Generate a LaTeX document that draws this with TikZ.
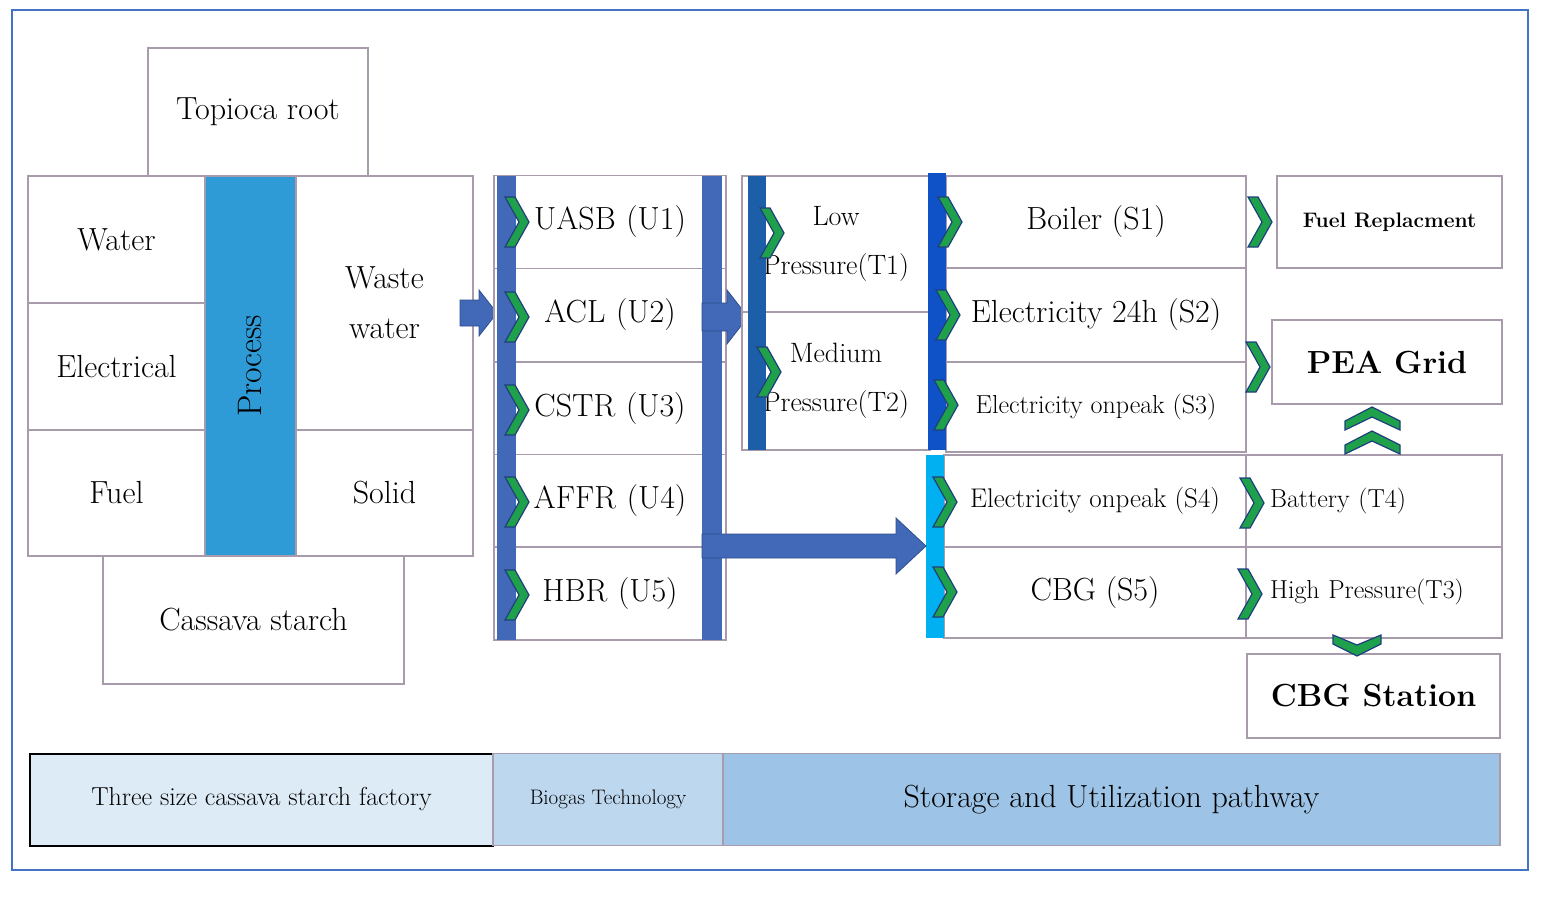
\documentclass[tikz,border=0pt]{standalone}
\begin{document}
\begin{tikzpicture}[x=1pt,y=-1pt,
 box/.style={draw=boxc,line width=1.6pt,fill=white,inner sep=0pt,align=center,font=\fontsize{32}{50}\selectfont},
 barr/.style={fill=blueA,draw=blueD,line width=0.8pt},
 chev/.style={fill=chevG,draw=chevB,line width=1.2pt}]
\definecolor{boxc}{HTML}{A89CAC}
\definecolor{frame}{HTML}{4472C4}
\definecolor{blueA}{HTML}{4169B8}
\definecolor{blueD}{HTML}{2F4F8F}
\definecolor{chevG}{HTML}{1FA04A}
\definecolor{chevB}{HTML}{1F3F7F}
\definecolor{procB}{HTML}{2E9BD6}
\definecolor{tBar}{HTML}{1C5FA8}
\definecolor{sBar}{HTML}{0F52C8}
\definecolor{cyanB}{HTML}{00B0F0}
\definecolor{legA}{HTML}{DDEBF7}
\definecolor{legB}{HTML}{BDD7EE}
\definecolor{legC}{HTML}{9DC3E6}
\useasboundingbox (0,0) rectangle (1550,900);
\draw[frame,line width=1.5pt] (12,10) rectangle (1528,870);
% left block
\node[box,minimum width=220,minimum height=128] (topioca) at (258,112) {Topioca root};
\node[box,minimum width=177,minimum height=127] (water) at (116.5,239.5) {Water};
\node[box,minimum width=177,minimum height=127] (elec) at (116.5,366.5) {Electrical};
\node[box,minimum width=177,minimum height=126] (fuel) at (116.5,493) {Fuel};
\node[box,minimum width=177,minimum height=254] (waste) at (384.5,303) {Waste\\water};
\node[box,minimum width=177,minimum height=126] (solid) at (384.5,493) {Solid};
\node[box,minimum width=301,minimum height=128] (starch) at (253.5,620) {Cassava starch};
\node[draw=boxc,line width=1.6pt,fill=procB,minimum width=91,minimum height=380,inner sep=0pt] (process) at (250.5,366) {};
\node[rotate=90,font=\fontsize{34}{40}\selectfont] (ptext) at (process.center) {Process};
% arrow 1
\draw[barr] (460,300) -- (479,300) -- (479,290) -- (497,313) -- (479,336) -- (479,326) -- (460,326) -- cycle;
% biogas column
\foreach \n/\t/\y in {u1/UASB (U1)/222, u2/ACL (U2)/315, u3/CSTR (U3)/408.5, u4/AFFR (U4)/501, u5/HBR (U5)/593.5}
  \node[box,minimum width=232,minimum height=93,text width=190] (\n) at (610,\y) {\t};
\fill[blueA] (497,176) rectangle (516,640);
\fill[blueA] (702,176) rectangle (722,640);
% arrow 2
\draw[barr] (702,303) -- (727,303) -- (727,290) -- (748,317) -- (727,344) -- (727,331) -- (702,331) -- cycle;
% T boxes
\node[box,minimum width=188,minimum height=136,font=\fontsize{28}{49}\selectfont] (t1) at (836,244) {Low\\Pressure(T1)};
\node[box,minimum width=188,minimum height=138,font=\fontsize{28}{49}\selectfont] (t2) at (836,381) {Medium\\Pressure(T2)};
\fill[tBar] (748,176) rectangle (766,450);
% S boxes
\node[box,minimum width=300,minimum height=92] (s1) at (1096,222) {Boiler (S1)};
\node[box,minimum width=300,minimum height=94] (s2) at (1096,315) {Electricity 24h (S2)};
\node[box,minimum width=300,minimum height=90,font=\fontsize{26}{30}\selectfont] (s3) at (1096,407) {Electricity onpeak (S3)};
\fill[sBar] (928,173) rectangle (946,450);
\node[box,minimum width=225,minimum height=92,font=\bfseries\fontsize{21}{24}\selectfont] (fr) at (1389.5,222) {Fuel Replacment};
\node[box,minimum width=230,minimum height=84,font=\bfseries\fontsize{32}{36}\selectfont] (pea) at (1387,362) {PEA Grid};
% lower rows
\node[box,minimum width=302,minimum height=92,font=\fontsize{27}{30}\selectfont] (s4) at (1095,501) {Electricity\ onpeak (S4)};
\node[box,minimum width=302,minimum height=91] (s5) at (1095,592.5) {CBG (S5)};
\node[box,minimum width=256,minimum height=92,text width=202,align=left,font=\fontsize{26}{30}\selectfont] (t4) at (1374,501) {\hspace*{-3pt}Battery (T4)};
\node[box,minimum width=256,minimum height=91,text width=202,align=left,font=\fontsize{26}{30}\selectfont] (t3) at (1374,592.5) {\hspace*{-3pt}High Pressure(T3)};
\fill[cyanB] (926,455) rectangle (944,638);
\node[box,minimum width=253,minimum height=84,font=\bfseries\fontsize{32}{36}\selectfont] (cbg) at (1373.5,696) {CBG Station};
% arrow 3
\draw[barr] (702,534) -- (896,534) -- (896,518) -- (926,546) -- (896,574) -- (896,558) -- (702,558) -- cycle;
% chevrons right
\foreach \x/\y in {505/222,505/317,505/410,505/502,505/595,760/233,757/372,938/222,936/315,934/405,1248/222,1246/367,933/502,933/592,1240/503,1238/594}
  \draw[chev] (\x,\y-25) -- (\x+10,\y-25) -- (\x+24,\y) -- (\x+10,\y+25) -- (\x,\y+25) -- (\x+14,\y) -- cycle;
% up chevrons
\foreach \y in {407,431}
  \draw[chev] (1345,\y+14) -- (1372,\y) -- (1400,\y+14) -- (1400,\y+23) -- (1372,\y+10) -- (1345,\y+23) -- cycle;
% down chevron
\draw[chev] (1333,635) -- (1357,645) -- (1381,635) -- (1381,644) -- (1357,656) -- (1333,644) -- cycle;
% legend
\node[draw=black,line width=2pt,fill=legA,minimum width=463,minimum height=92,inner sep=0pt,font=\fontsize{26}{30}\selectfont] (l1) at (261.5,799.5) {Three size cassava starch factory};
\node[draw=boxc,line width=1.2pt,fill=legB,minimum width=230,minimum height=92,inner sep=0pt,font=\fontsize{21}{24}\selectfont] (l2) at (608,799.5) {Biogas Technology};
\node[draw=boxc,line width=1.2pt,fill=legC,minimum width=777,minimum height=92,inner sep=0pt,font=\fontsize{32}{36}\selectfont] (l3) at (1111.5,799.5) {Storage and Utilization pathway};
\end{tikzpicture}
\end{document}
